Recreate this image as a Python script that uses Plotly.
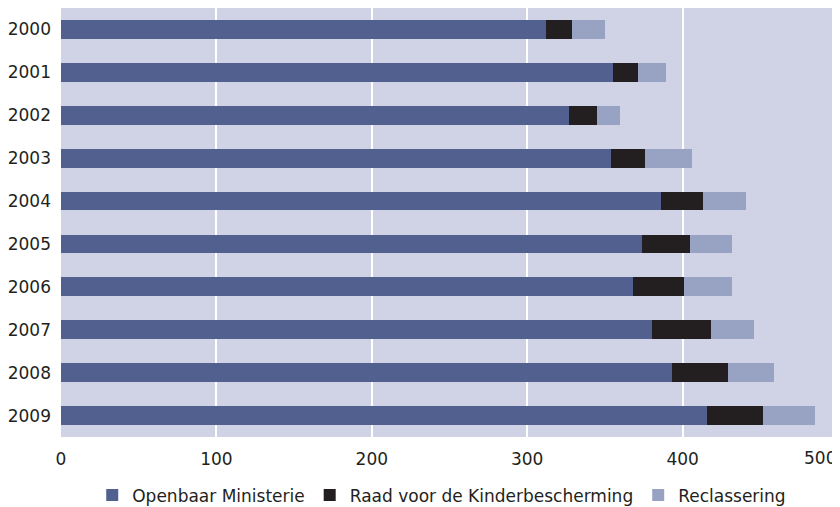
import plotly.graph_objects as go

# jaren en aantallen per organisatie
years = ["2000", "2001", "2002", "2003", "2004", "2005", "2006", "2007", "2008", "2009"]
openbaar_ministerie = [312, 355, 327, 354, 386, 374, 368, 380, 393, 416]
raad_kinderbescherming = [17, 16, 18, 22, 27, 31, 33, 38, 36, 36]
reclassering = [21, 18, 15, 30, 28, 27, 31, 28, 30, 33]

x_ticks = [0, 100, 200, 300, 400]
x_max = 500

font = dict(family="DejaVu Sans", size=17, color="#231f20")

fig = go.Figure()
fig.add_trace(go.Bar(y=years, x=openbaar_ministerie, orientation="h",
                     name="Openbaar Ministerie", marker=dict(color="#52608f", line_width=0)))
fig.add_trace(go.Bar(y=years, x=raad_kinderbescherming, orientation="h",
                     name="Raad voor de Kinderbescherming", marker=dict(color="#231f20", line_width=0)))
fig.add_trace(go.Bar(y=years, x=reclassering, orientation="h",
                     name="Reclassering", marker=dict(color="#98a2c2", line_width=0)))

# page has an 8px body margin, so the figure is sized to fit the window
fig.update_layout(
    barmode="stack",
    bargap=0.56,
    width=832, height=499,
    margin=dict(l=53, r=2, t=0, b=70, autoexpand=False),
    plot_bgcolor="#d0d3e5",
    paper_bgcolor="white",
    font=font,
    legend=dict(orientation="h", x=0.49, xanchor="center", y=-0.094, yanchor="top",
                font=font, itemwidth=30, traceorder="normal"),
    xaxis=dict(range=[0, x_max], tickvals=x_ticks,
               showgrid=True, gridcolor="white", gridwidth=2,
               zeroline=True, zerolinecolor="#d0d3e5", zerolinewidth=1,
               showline=False, ticks="", ticklabelstandoff=10, automargin=False,
               fixedrange=True),
    yaxis=dict(autorange="reversed", showgrid=False, zeroline=False, showline=False,
               ticks="", ticklabelstandoff=9, type="category", automargin=False),
)

# last tick label sits at the right edge, so it is right-aligned to its tick
fig.add_annotation(x=x_max, xref="x", y=0, yref="paper", text=str(x_max),
                   showarrow=False, xanchor="right", yanchor="top", yshift=-9,
                   font=font)

fig.write_html("out.html")
